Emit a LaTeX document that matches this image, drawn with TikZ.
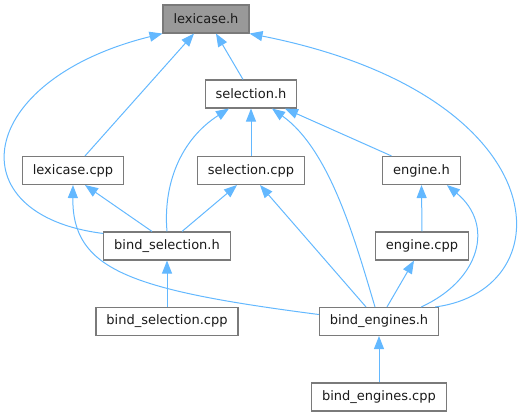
\documentclass[tikz,border=0pt]{standalone}
\usepackage{fontspec}
\setmainfont{DejaVu Sans}
\usepackage{tikz}
\usepackage{xcolor}
\usetikzlibrary{arrows.meta,positioning}
\definecolor{edgeBlue}{HTML}{63B8FF}
\definecolor{boxGray}{HTML}{7A7A7A}
\definecolor{rootGray}{HTML}{999999}
\definecolor{textDark}{HTML}{1A1A1A}

\begin{document}
\begin{tikzpicture}[x=1pt, y=-1pt,
  file/.style={draw=boxGray, fill=white, line width=1.1pt, minimum height=28pt, inner xsep=10.5pt, inner ysep=0pt, text=textDark, font=\fontsize{13}{15}\selectfont},
  root/.style={file, fill=rootGray},
  dep/.style={-{Triangle[length=13pt,width=10pt]}, draw=edgeBlue, line width=1pt}
]
\useasboundingbox (0,0) rectangle (519,417);
\node[root] (lexH) at (206,19) {lexicase.h};
\node[file] (selH) at (251,94) {selection.h};
\node[file] (lexCpp) at (73,170.5) {lexicase.cpp};
\node[file] (selCpp) at (251,170.5) {selection.cpp};
\node[file] (engH) at (421.5,170.5) {engine.h};
\node[file] (bindSelH) at (167,246) {bind\_selection.h};
\node[file] (engCpp) at (422,246) {engine.cpp};
\node[file] (bindSelCpp) at (167,321.5) {bind\_selection.cpp};
\node[file] (bindEngH) at (379,321.5) {bind\_engines.h};
\node[file] (bindEngCpp) at (379,397) {bind\_engines.cpp};
% edges into lexicase.h
\draw[dep] ([yshift=-2pt]bindSelH.north west) .. controls (-45,215) and (-25,80) .. (lexH.south west);
\draw[dep] ([xshift=12pt]lexCpp.north) -- ([xshift=-12pt]lexH.south);
\draw[dep] ([xshift=-8pt]selH.north) -- ([xshift=10pt]lexH.south);
\draw[dep] ([xshift=-4pt]bindEngH.north east) .. controls (566,290) and (560,95) .. (lexH.south east);
% edges into selection.h
\draw[dep] (selCpp.north) -- (selH.south);
\draw[dep] (bindSelH.north) .. controls (163,185) and (180,140) .. ([xshift=-22pt]selH.south);
\draw[dep] ([xshift=-4pt]bindEngH.north) .. controls (355,240) and (330,150) .. ([xshift=21pt]selH.south);
\draw[dep] ([xshift=-30pt]engH.north) -- ([xshift=34pt]selH.south);
% edges into lexicase.cpp and selection.cpp
\draw[dep] ([xshift=-15pt]bindSelH.north) -- ([xshift=12pt]lexCpp.south);
\draw[dep] ([xshift=15pt]bindSelH.north) -- ([xshift=-14pt]selCpp.south);
\draw[dep] ([yshift=7pt]bindEngH.west) .. controls (130,290) and (72,270) .. (lexCpp.south);
\draw[dep] ([xshift=-13pt]bindEngH.north) -- ([xshift=9pt]selCpp.south);
% edges into engine.h and engine.cpp
\draw[dep] (engCpp.north) -- (engH.south);
\draw[dep] ([xshift=-18pt]bindEngH.north east) .. controls (480,280) and (495,225) .. ([xshift=-14pt]engH.south east);
\draw[dep] ([xshift=8pt]bindEngH.north) -- ([xshift=-8pt]engCpp.south);
% bottom row
\draw[dep] (bindSelCpp.north) -- (bindSelH.south);
\draw[dep] (bindEngCpp.north) -- (bindEngH.south);
\end{tikzpicture}
\end{document}
